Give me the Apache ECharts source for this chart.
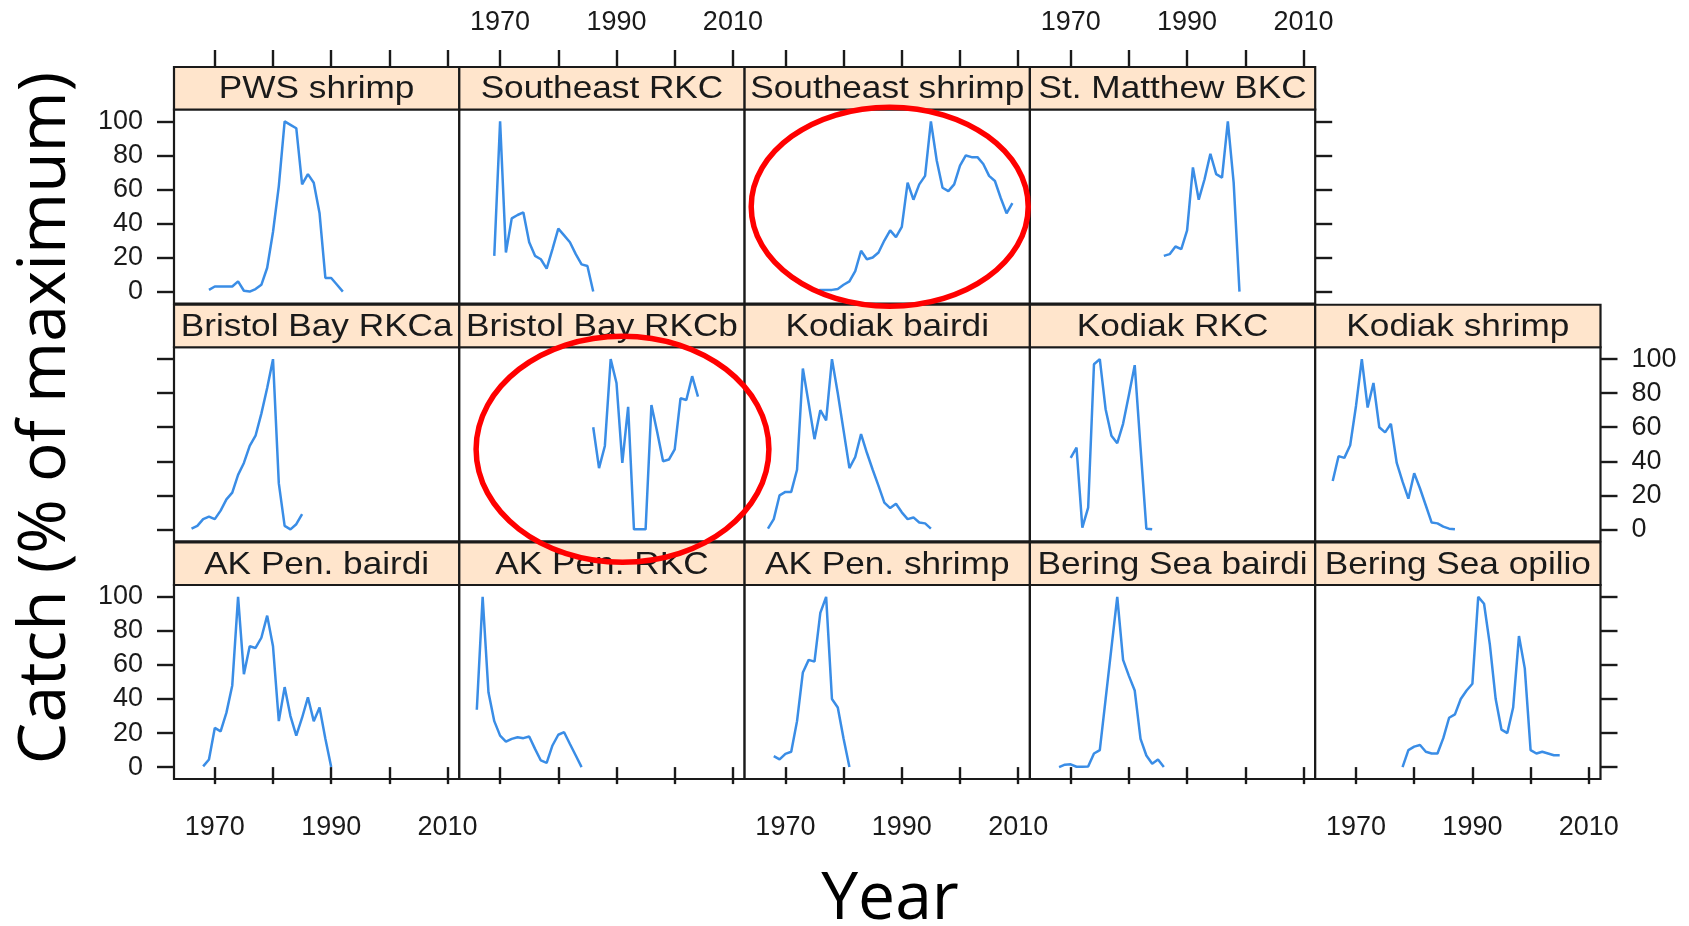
<!DOCTYPE html>
<html>
<head>
<meta charset="utf-8">
<script src="https://cdn.jsdelivr.net/npm/echarts@6/dist/echarts.min.js"></script>
<style>
  html, body { margin: 0; padding: 0; background: #fff; }
  #chart { width: 1689px; height: 926px; }
</style>
</head>
<body>
<div id="chart"></div>
<script>
// Panel names, placement in the lattice (row, column) and first year of each record
const panelNames = [
  'PWS shrimp', 'Southeast RKC', 'Southeast shrimp', 'St. Matthew BKC',
  'Bristol Bay RKCa', 'Bristol Bay RKCb', 'Kodiak bairdi', 'Kodiak RKC', 'Kodiak shrimp',
  'AK Pen. bairdi', 'AK Pen. RKC', 'AK Pen. shrimp', 'Bering Sea bairdi', 'Bering Sea opilio'
];
const panelRow = [0, 0, 0, 0, 1, 1, 1, 1, 1, 2, 2, 2, 2, 2];
const panelCol = [0, 1, 2, 3, 0, 1, 2, 3, 4, 0, 1, 2, 3, 4];
const firstYear = [1969, 1969, 1975, 1986, 1966, 1986, 1967, 1970, 1966, 1968, 1966, 1968, 1968, 1978];

// Yearly catch, % of each fishery's maximum
const pwsShrimp = [1, 3, 3, 3, 3, 6, 0.5, 0, 1.5, 4, 14, 35, 62, 100, 98, 96, 63, 69, 64, 46, 8, 8, 4, 0];
const southeastRKC = [21, 100, 23, 43, 45, 46.5, 29, 21, 19, 13.5, 25, 37, 33, 29, 22, 16, 15, 0];
const southeastShrimp = [0.5, 1, 1, 1, 1.5, 4, 6, 12, 24, 19, 20, 23, 30, 36, 32, 38, 64, 54, 63, 68,
  100, 77, 61, 59, 63, 74, 80, 79, 79, 75, 68, 65, 55, 46, 52];
const stMatthewBKC = [21, 22, 26.5, 25, 36, 73, 54, 66, 81, 69, 67, 100, 64, 0];
const bristolBayRKCa = [0.4, 2, 6, 7.5, 6, 11, 17.6, 21.6, 32, 39, 49, 55, 68, 83, 100, 27, 2, 0, 3, 9];
const bristolBayRKCb = [60, 36, 49, 100, 86, 39, 72, 0, 0, 0, 73, 57, 40, 41, 47, 77, 76, 90, 78];
const kodiakBairdi = [0.4, 6, 20, 22, 22, 35, 94.5, 74, 53, 70, 64, 100, 80, 58, 36, 42.5, 56, 45, 35, 25.5,
  15.7, 12.5, 15, 10, 6, 7, 4, 3.5, 0.4];
const kodiakRKC = [42, 48, 1, 12.7, 97, 100, 70.6, 55, 50.6, 62, 79, 96.5, 48, 0.4, 0];
const kodiakShrimp = [28.4, 43, 42, 49.4, 72.5, 100, 71.6, 86, 60, 57, 62, 39, 28, 18, 33, 24, 14, 4, 3.5, 1.6, 0.4, 0];
const akPenBairdi = [0.4, 4.5, 23, 21, 32, 48, 100, 54.6, 71, 70, 76, 89, 71, 27, 47, 30, 18.5, 29, 41, 27, 35, 16.6, 0];
const akPenRKC = [33.7, 100, 44, 27, 18.5, 15, 16.6, 17.5, 17, 18, 10.7, 3.9, 2.5, 12.7, 19, 20.5, 13.6, 6.8, 0];
const akPenShrimp = [6.4, 4.5, 7.8, 9, 27, 55.6, 63, 62, 90.6, 100, 40, 35, 16.6, 0];
const beringSeaBairdi = [0, 1.4, 1.6, 0.2, 0.2, 0.4, 8, 10, 40, 70, 100, 63, 53.6, 45, 16.6, 6.8, 2, 4.5, 0];
const beringSeaOpilio = [0, 10, 12, 13, 9, 8, 8, 17, 29, 31, 40, 45, 49, 100, 96, 72, 40, 22, 20, 35,
  77, 58, 10, 8, 9, 8, 7, 7];

const panelValues = [
  pwsShrimp, southeastRKC, southeastShrimp, stMatthewBKC,
  bristolBayRKCa, bristolBayRKCb, kodiakBairdi, kodiakRKC, kodiakShrimp,
  akPenBairdi, akPenRKC, akPenShrimp, beringSeaBairdi, beringSeaOpilio
];

// Tick marks and tick labels
const yearTicks = [1970, 1980, 1990, 2000, 2010];
const yearLabels = [1970, 1990, 2010];
const catchTicks = [0, 20, 40, 60, 80, 100];

// Lattice geometry (pixels)
const X_MIN = 1962.99, X_MAX = 2012.01, Y_MIN = -7, Y_MAX = 107;
const COL_LEFT0 = 174, COL_W = 285.3;
const ROW_TOP0 = 67, ROW_PITCH = 237.75, STRIP_H = 42.5, PANEL_H = 194;
const TICK_LEN = 17;
const INK = '#1a1a1a';
const LINE_COLOR = '#3a8de6';
const SANS = '"Liberation Sans", Arial, Helvetica, sans-serif';
const TITLE_FONT = '"Open Sans", "Noto Sans", sans-serif';

const grids = [], xAxes = [], yAxes = [], series = [], graphics = [];
const tick = () => ({ show: true, inside: false, length: TICK_LEN, lineStyle: { color: INK, width: 2.4 } });
const label = (margin, extra) => Object.assign({
  show: true, margin, fontSize: 27, color: INK, fontFamily: SANS, formatter: v => String(v)
}, extra || {});

panelNames.forEach((name, i) => {
  const r = panelRow[i], c = panelCol[i];
  const left = COL_LEFT0 + c * COL_W;
  const stripTop = ROW_TOP0 + r * ROW_PITCH;
  const top = stripTop + STRIP_H;
  const isRightmost = (r === 0 && c === 3) || (r > 0 && c === 4);

  grids.push({
    left, top, width: COL_W, height: PANEL_H,
    show: true, borderColor: INK, borderWidth: 2.2, backgroundColor: '#fff'
  });

  // bottom year axis
  const xi = xAxes.length;
  xAxes.push({
    type: 'value', gridIndex: i, position: 'bottom', min: X_MIN, max: X_MAX,
    axisLine: { show: false }, splitLine: { show: false },
    axisTick: r === 2 ? Object.assign(tick(), { customValues: yearTicks }) : { show: false },
    axisLabel: (r === 2 && c % 2 === 0) ? label(35, { customValues: yearLabels }) : { show: false }
  });
  // top year axis, drawn above the strip
  if (r === 0) {
    xAxes.push({
      type: 'value', gridIndex: i, position: 'top', offset: STRIP_H, min: X_MIN, max: X_MAX,
      axisLine: { show: false }, splitLine: { show: false },
      axisTick: Object.assign(tick(), { customValues: yearTicks }),
      axisLabel: c % 2 === 1 ? label(31, { customValues: yearLabels }) : { show: false }
    });
  }

  // catch axes: left on the first column, right on the last panel of each row
  const yi = yAxes.length;
  const baseY = { type: 'value', gridIndex: i, min: Y_MIN, max: Y_MAX, axisLine: { show: false }, splitLine: { show: false } };
  if (c === 0) {
    yAxes.push(Object.assign({}, baseY, {
      position: 'left',
      axisTick: Object.assign(tick(), { customValues: catchTicks }),
      axisLabel: r !== 1 ? label(31, { customValues: catchTicks }) : { show: false }
    }));
  }
  if (isRightmost) {
    yAxes.push(Object.assign({}, baseY, {
      position: 'right',
      axisTick: Object.assign(tick(), { customValues: catchTicks }),
      axisLabel: r === 1 ? label(31, { customValues: catchTicks, align: 'left' }) : { show: false }
    }));
  }
  if (c !== 0 && !isRightmost) {
    yAxes.push(Object.assign({}, baseY, { axisTick: { show: false }, axisLabel: { show: false } }));
  }

  series.push({
    type: 'line', name, xAxisIndex: xi, yAxisIndex: yi,
    data: panelValues[i].map((v, k) => [firstYear[i] + k, v]),
    showSymbol: false, symbol: 'none', silent: true,
    lineStyle: { color: LINE_COLOR, width: 2.5 }
  });

  // strip with the fishery name
  graphics.push({
    type: 'rect', z: 10,
    shape: { x: left, y: stripTop, width: COL_W, height: STRIP_H },
    style: { fill: '#ffe5cc', stroke: INK, lineWidth: 2.2 }
  });
  graphics.push({
    type: 'text', z: 11, x: left + COL_W / 2, y: stripTop + STRIP_H / 2 + 1, scaleX: 1.1,
    style: {
      text: name, fill: INK, fontSize: 32, fontFamily: SANS,
      align: 'center', verticalAlign: 'middle', textAlign: 'center', textVerticalAlign: 'middle'
    }
  });
});

// axis titles
graphics.push({
  type: 'text', z: 20, x: 46, y: 418, rotation: Math.PI / 2,
  style: {
    text: 'Catch (% of maximum)', fill: '#000', fontSize: 66, fontFamily: TITLE_FONT,
    align: 'center', verticalAlign: 'middle', textAlign: 'center', textVerticalAlign: 'middle'
  }
});
graphics.push({
  type: 'text', z: 20, x: 890, y: 900,
  style: {
    text: 'Year', fill: '#000', fontSize: 66, fontFamily: TITLE_FONT,
    align: 'center', verticalAlign: 'middle', textAlign: 'center', textVerticalAlign: 'middle'
  }
});

// red highlight rings
graphics.push({
  type: 'ellipse', z: 30, shape: { cx: 889.7, cy: 206.7, rx: 138.5, ry: 99.5 },
  style: { fill: 'none', stroke: '#ff0000', lineWidth: 5.5 }
});
graphics.push({
  type: 'ellipse', z: 30, shape: { cx: 622.5, cy: 449.2, rx: 146.4, ry: 113 },
  style: { fill: 'none', stroke: '#ff0000', lineWidth: 5.5 }
});

const chart = echarts.init(document.getElementById('chart'), null, { renderer: 'canvas' });
chart.setOption({
  animation: false,
  backgroundColor: '#fff',
  grid: grids,
  xAxis: xAxes,
  yAxis: yAxes,
  series,
  graphic: { elements: graphics }
});
</script>
</body>
</html>
